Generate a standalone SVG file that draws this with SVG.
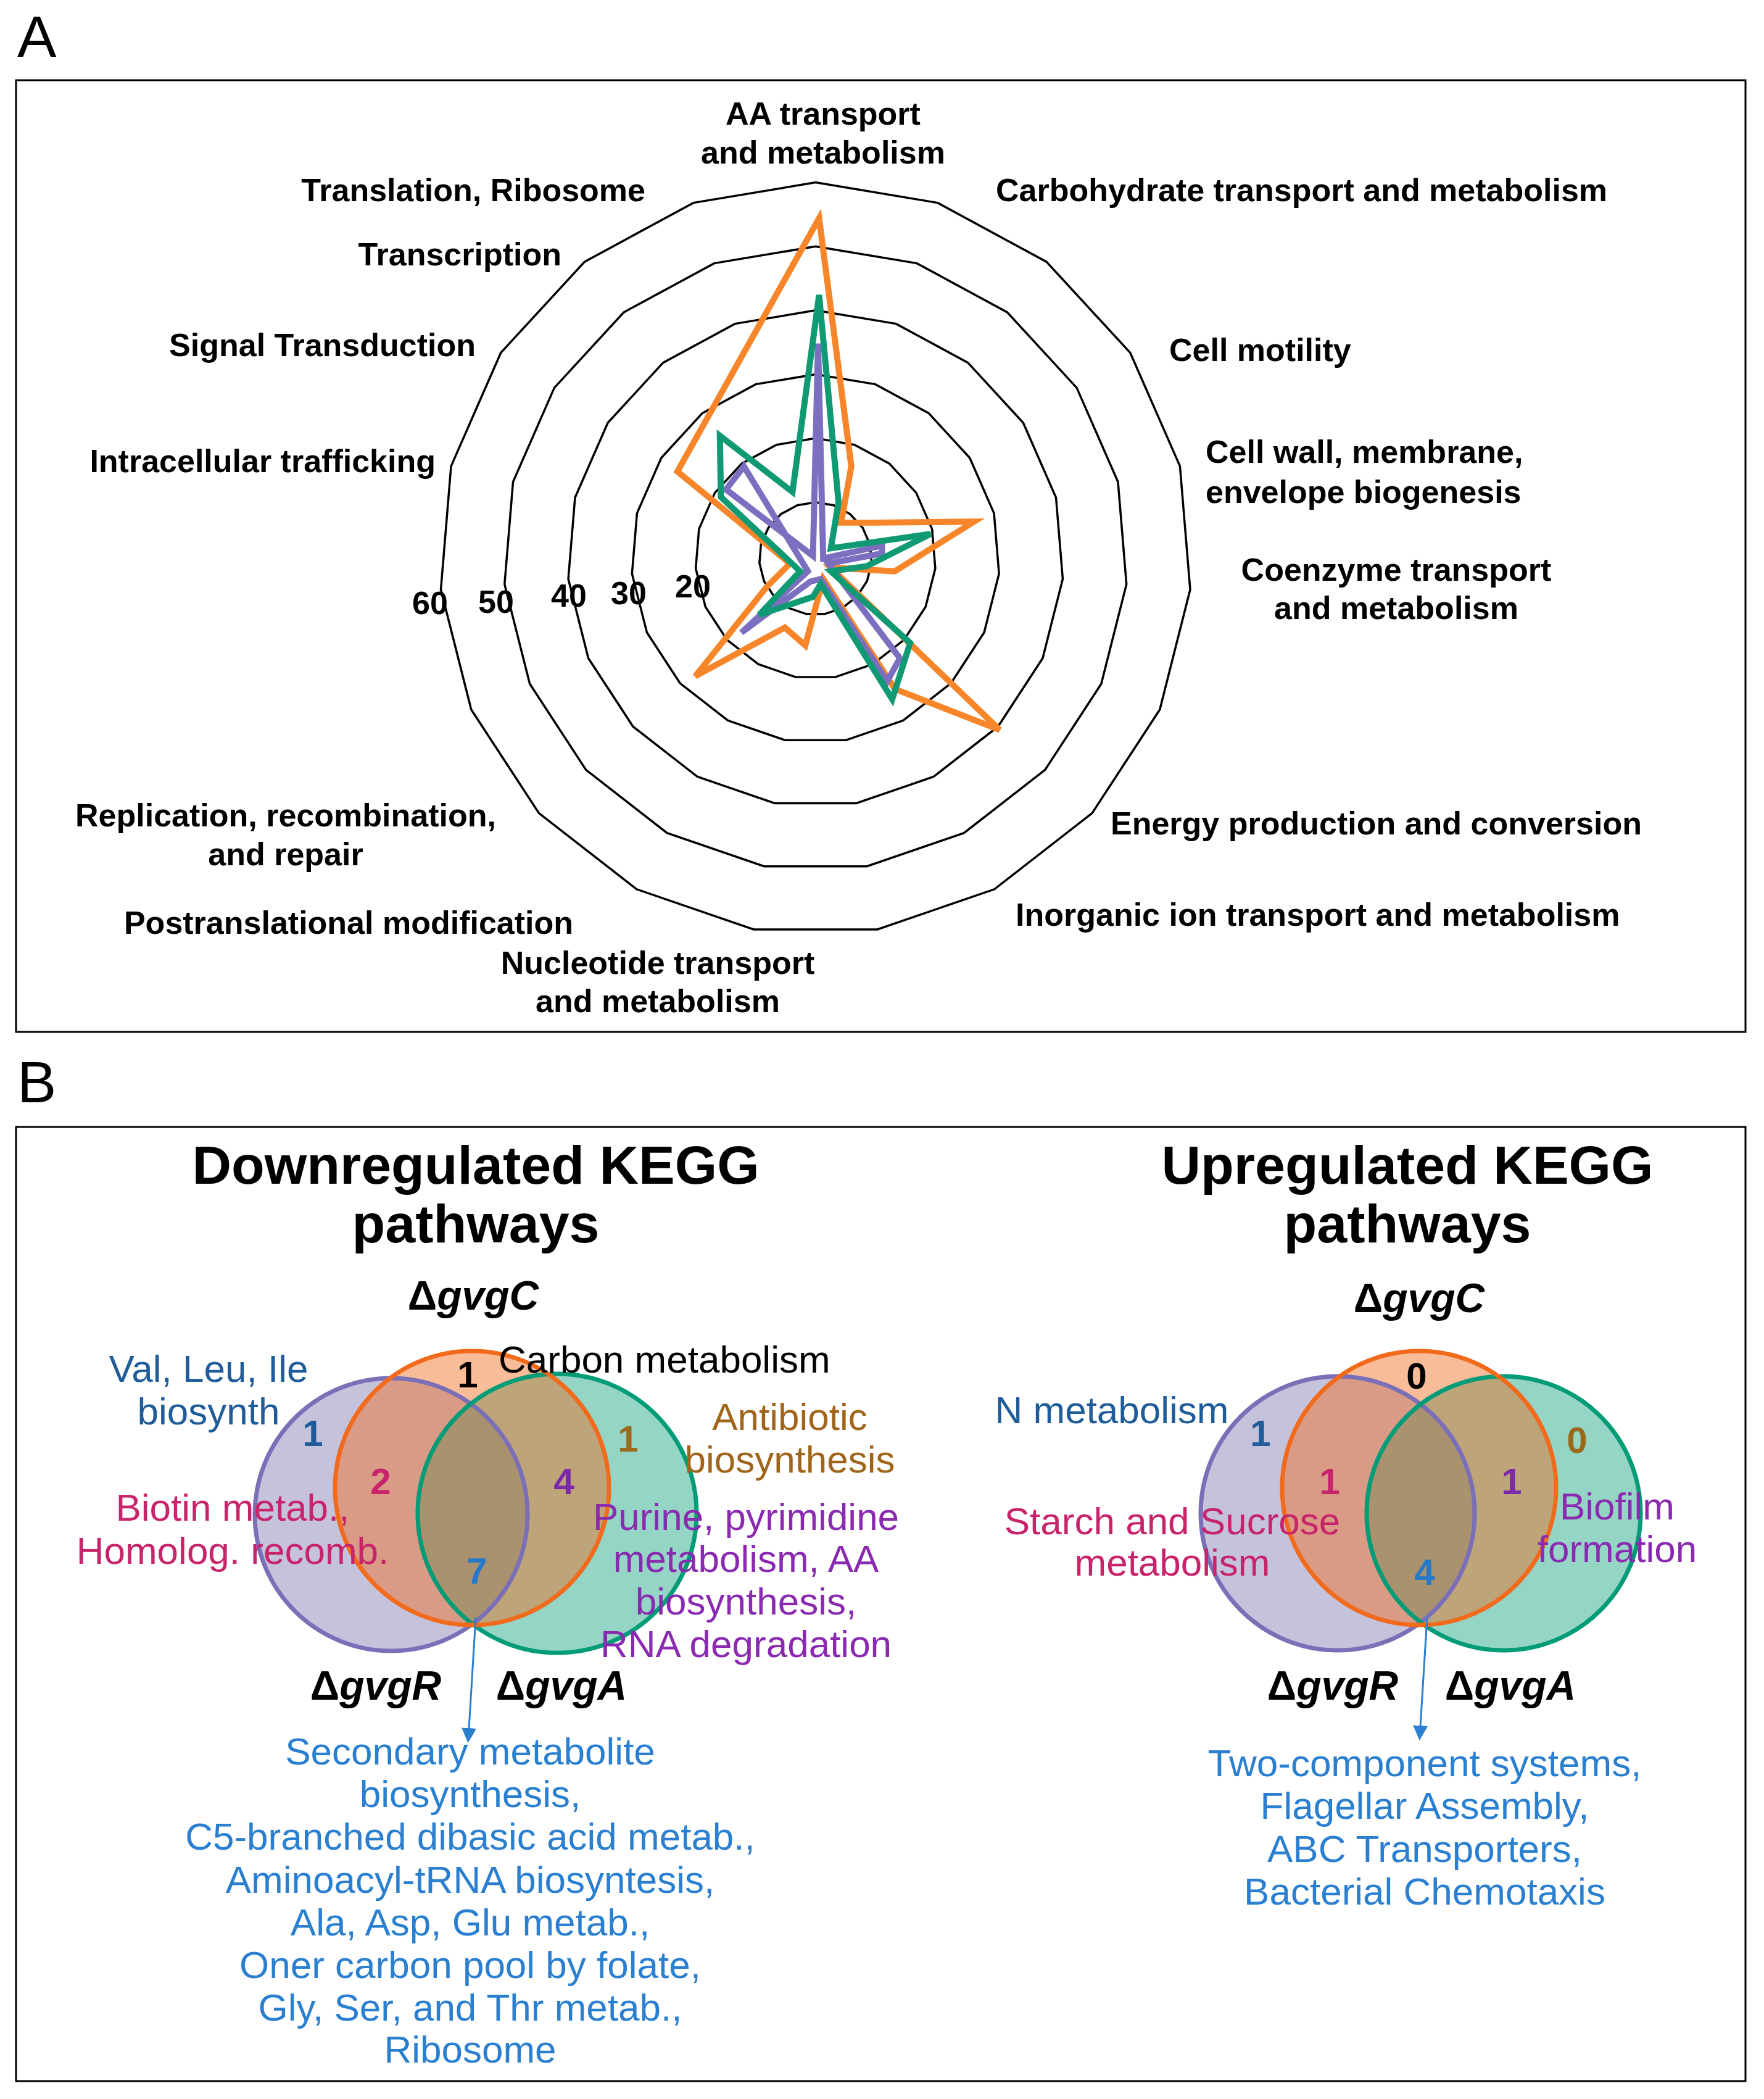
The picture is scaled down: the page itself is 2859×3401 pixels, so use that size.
<svg xmlns="http://www.w3.org/2000/svg" xmlns:xlink="http://www.w3.org/1999/xlink" width="2859" height="3401" viewBox="0 0 2859 3401">
<style>
text{font-family:"Liberation Sans",Arial,sans-serif}
.lab{font-size:52px;font-weight:bold;fill:#000}
.ax{font-size:52px;font-weight:bold;fill:#000;text-anchor:middle}
.ttl{font-size:88px;font-weight:bold;text-anchor:middle}
.gene{font-size:66px;font-weight:bold;text-anchor:middle}
.v{font-size:62px;text-anchor:middle}
.num{font-size:60px;font-weight:bold;text-anchor:middle}
.ring{fill:none;stroke:#000;stroke-width:3.5}
.ser{fill:none;stroke-width:12;stroke-linejoin:miter}
</style>
<defs>
<polygon id="p19" points="0,-100 32.47,-94.58 61.42,-78.91 83.72,-54.69 96.94,-24.55 99.66,8.26 91.58,40.17 73.57,67.73 47.59,87.95 16.46,98.64 -16.46,98.64 -47.59,87.95 -73.57,67.73 -91.58,40.17 -99.66,8.26 -96.94,-24.55 -83.72,-54.69 -61.42,-78.91 -32.47,-94.58" vector-effect="non-scaling-stroke"/>
<marker id="ah" markerWidth="8" markerHeight="8" refX="6" refY="4" orient="auto" markerUnits="strokeWidth"><path d="M0,0 L8,4 L0,8 Z" fill="#2a7fd0"/></marker>
</defs>
<rect width="2859" height="3401" fill="#fff"/>
<text x="28" y="92" font-size="95">A</text>
<rect x="26" y="130" width="2803" height="1542" fill="none" stroke="#000" stroke-width="3"/>
<g id="radar" transform="translate(700,250) scale(0.829)">
<g class="ring">
<use xlink:href="#p19" transform="translate(750,790) scale(1.1)"/>
<use xlink:href="#p19" transform="translate(750,790) scale(2.35)"/>
<use xlink:href="#p19" transform="translate(750,790) scale(3.6)"/>
<use xlink:href="#p19" transform="translate(750,790) scale(4.85)"/>
<use xlink:href="#p19" transform="translate(750,790) scale(6.1)"/>
<use xlink:href="#p19" transform="translate(750,790) scale(7.35)"/>
</g>
<polygon class="ser" stroke="#f7862a" points="757,125 820,610 800,720 865,720 1060,718 905,815 780,808 1110,1125 905,1045 765,830 730,960 690,925 515,1020 655,845 700,800 480,620"/>
<polygon class="ser" stroke="#7b6fc0" points="755,370 765,790 880,765 880,780 775,800 915,985 890,1030 760,830 740,835 605,935 735,815 610,610 575,655 745,785"/>
<polygon class="ser" stroke="#0f9a74" points="757,275 795,680 780,770 975,742 850,805 780,815 935,955 900,1065 760,840 745,865 640,900 720,815 565,670 563,550 705,660"/>
</g>
<g id="scale" class="ax">
<text x="1123" y="968">20</text><text x="1019" y="979">30</text><text x="922" y="983">40</text><text x="804" y="993">50</text><text x="697" y="995">60</text>
</g>
<g id="labelsA" class="lab">
<text x="1334" y="202" text-anchor="middle">AA transport</text>
<text x="1334" y="265" text-anchor="middle">and metabolism</text>
<text x="1614" y="326">Carbohydrate transport and metabolism</text>
<text x="1046" y="326" text-anchor="end">Translation, Ribosome</text>
<text x="910" y="430" text-anchor="end">Transcription</text>
<text x="1895" y="585">Cell motility</text>
<text x="771" y="577" text-anchor="end">Signal Transduction</text>
<text x="1954" y="750">Cell wall, membrane,</text>
<text x="1954" y="815">envelope biogenesis</text>
<text x="706" y="765" text-anchor="end">Intracellular trafficking</text>
<text x="2263" y="941" text-anchor="middle">Coenzyme transport</text>
<text x="2263" y="1003" text-anchor="middle">and metabolism</text>
<text x="1800" y="1352">Energy production and conversion</text>
<text x="1646" y="1500">Inorganic ion transport and metabolism</text>
<text x="463" y="1339" text-anchor="middle">Replication, recombination,</text>
<text x="463" y="1402" text-anchor="middle">and repair</text>
<text x="565" y="1513" text-anchor="middle">Postranslational modification</text>
<text x="1066" y="1578" text-anchor="middle">Nucleotide transport</text>
<text x="1066" y="1640" text-anchor="middle">and metabolism</text>
</g>
<text x="28" y="1786" font-size="95">B</text>
<rect x="26" y="1826" width="2803" height="1546" fill="none" stroke="#000" stroke-width="3"/>
<g id="titles" class="ttl">
<text x="771" y="1918">Downregulated KEGG</text><text x="771" y="2013">pathways</text>
<text x="2281" y="1918">Upregulated KEGG</text><text x="2281" y="2013">pathways</text>
</g>
<g id="genes" class="gene">
<text x="767" y="2122">Δ<tspan font-style="italic">gvgC</tspan></text>
<text x="609" y="2754">Δ<tspan font-style="italic">gvgR</tspan></text>
<text x="910" y="2754">Δ<tspan font-style="italic">gvgA</tspan></text>
<text x="2300" y="2126">Δ<tspan font-style="italic">gvgC</tspan></text>
<text x="2160" y="2754">Δ<tspan font-style="italic">gvgR</tspan></text>
<text x="2448" y="2754">Δ<tspan font-style="italic">gvgA</tspan></text>
</g>
<g id="vennL">
<circle cx="634" cy="2454" r="221" fill="#c5c3dc"/>
<circle cx="903" cy="2452" r="226" fill="#009b77" fill-opacity="0.42"/>
<circle cx="765" cy="2411" r="222" fill="#f26a1b" fill-opacity="0.45"/>
<circle cx="634" cy="2454" r="221" fill="none" stroke="#7b6fb8" stroke-width="7"/>
<circle cx="903" cy="2452" r="226" fill="none" stroke="#009b77" stroke-width="7"/>
<circle cx="765" cy="2411" r="222" fill="none" stroke="#f26a1b" stroke-width="7"/>
</g>
<g id="vennR">
<circle cx="2168" cy="2452" r="222" fill="#c5c3dc"/>
<circle cx="2437" cy="2452" r="222" fill="#009b77" fill-opacity="0.42"/>
<circle cx="2300" cy="2411" r="222" fill="#f26a1b" fill-opacity="0.45"/>
<circle cx="2168" cy="2452" r="222" fill="none" stroke="#7b6fb8" stroke-width="7"/>
<circle cx="2437" cy="2452" r="222" fill="none" stroke="#009b77" stroke-width="7"/>
<circle cx="2300" cy="2411" r="222" fill="none" stroke="#f26a1b" stroke-width="7"/>
</g>
<g id="connectors" stroke="#2a7fd0" stroke-width="3" fill="none">
<line x1="771" y1="2621" x2="759" y2="2818" marker-end="url(#ah)"/>
<line x1="2313" y1="2621" x2="2301" y2="2814" marker-end="url(#ah)"/>
</g>
<g id="numsL" class="num">
<text x="758" y="2248" fill="#000">1</text>
<text x="507" y="2343" fill="#1f5c99">1</text>
<text x="1018" y="2352" fill="#9a6a1a">1</text>
<text x="617" y="2421" fill="#c8246c">2</text>
<text x="914" y="2421" fill="#7a2aa8">4</text>
<text x="773" y="2566" fill="#2878c8">7</text>
</g>
<g id="numsR" class="num">
<text x="2296" y="2250" fill="#000">0</text>
<text x="2043" y="2343" fill="#1f5c99">1</text>
<text x="2556" y="2354" fill="#9a6a1a">0</text>
<text x="2155" y="2421" fill="#c8246c">1</text>
<text x="2450" y="2421" fill="#7a2aa8">1</text>
<text x="2309" y="2568" fill="#2878c8">4</text>
</g>
<g id="textsL" class="v">
<text x="808" y="2224" text-anchor="start" fill="#000">Carbon metabolism</text>
<text x="338" y="2239" fill="#1f5c99">Val, Leu, Ile</text>
<text x="338" y="2308" fill="#1f5c99">biosynth</text>
<text x="1280" y="2317" fill="#a0651a">Antibiotic</text>
<text x="1280" y="2386" fill="#a0651a">biosynthesis</text>
<text x="377" y="2464" fill="#c8246c">Biotin metab.,</text>
<text x="377" y="2534" fill="#c8246c">Homolog. recomb.</text>
<text x="1209" y="2479" fill="#8a2ab0">Purine, pyrimidine</text>
<text x="1209" y="2547" fill="#8a2ab0">metabolism, AA</text>
<text x="1209" y="2616" fill="#8a2ab0">biosynthesis,</text>
<text x="1209" y="2685" fill="#8a2ab0">RNA degradation</text>
</g>
<g id="listL" class="v" fill="#2a7fd0">
<text x="762" y="2859">Secondary metabolite</text>
<text x="762" y="2928">biosynthesis,</text>
<text x="762" y="2997">C5-branched dibasic acid metab.,</text>
<text x="762" y="3067">Aminoacyl-tRNA biosyntesis,</text>
<text x="762" y="3136">Ala, Asp, Glu metab.,</text>
<text x="762" y="3205">Oner carbon pool by folate,</text>
<text x="762" y="3274">Gly, Ser, and Thr metab.,</text>
<text x="762" y="3342">Ribosome</text>
</g>
<g id="textsR" class="v">
<text x="1802" y="2306" fill="#1f5c99">N metabolism</text>
<text x="1900" y="2486" fill="#c8246c">Starch and Sucrose</text>
<text x="1900" y="2553" fill="#c8246c">metabolism</text>
<text x="2621" y="2462" fill="#8a2ab0">Biofilm</text>
<text x="2621" y="2531" fill="#8a2ab0">formation</text>
</g>
<g id="listR" class="v" fill="#2a7fd0">
<text x="2309" y="2878">Two-component systems,</text>
<text x="2309" y="2947">Flagellar Assembly,</text>
<text x="2309" y="3017">ABC Transporters,</text>
<text x="2309" y="3086">Bacterial Chemotaxis</text>
</g>
</svg>
